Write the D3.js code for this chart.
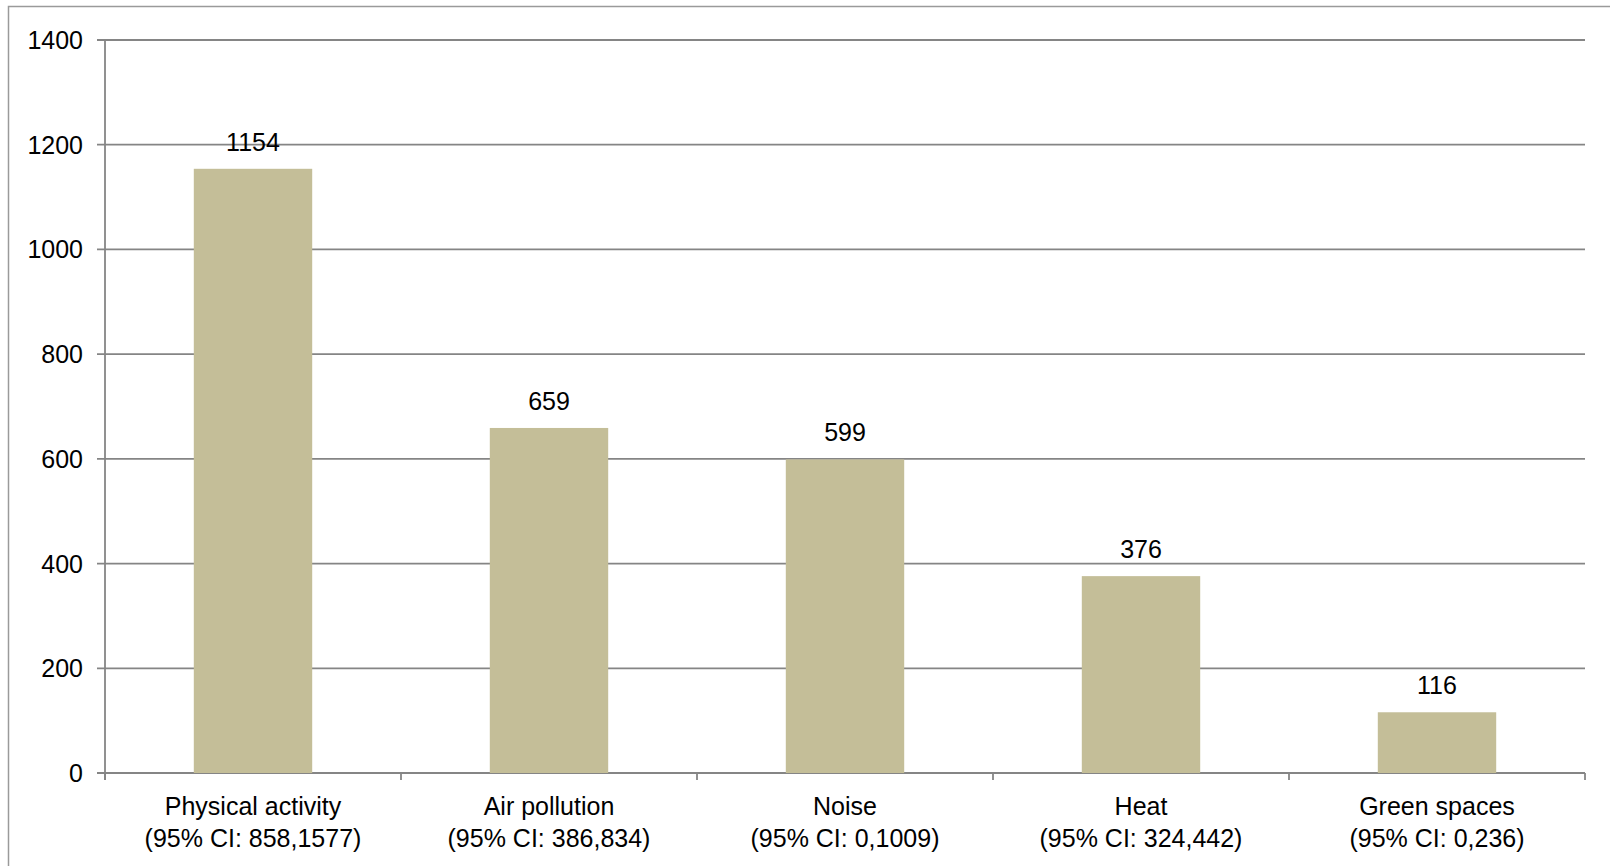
<!DOCTYPE html>
<html><head><meta charset="utf-8">
<script src="https://cdn.jsdelivr.net/npm/d3@7"></script>
<style>body{margin:0;background:#fff;}svg{display:block;font-family:"Liberation Sans",Arial,sans-serif;}</style>
</head><body>
<svg id="c" width="1610" height="866"></svg>
<script>
const categories = ["Physical activity", "Air pollution", "Noise", "Heat", "Green spaces"];
const ciLabels = ["(95% CI: 858,1577)", "(95% CI: 386,834)", "(95% CI: 0,1009)", "(95% CI: 324,442)", "(95% CI: 0,236)"];
const values = [1154, 659, 599, 376, 116];
const yTicks = [0, 200, 400, 600, 800, 1000, 1200, 1400];

const svg = d3.select("#c");
const m = {left: 105, right: 1585, top: 40, bottom: 773};
svg.append("rect").attr("x", 8.5).attr("y", 6.5).attr("width", 1620).attr("height", 880)
  .attr("fill", "none").attr("stroke", "#9a9a9a").attr("stroke-width", 1.5);

const x = d3.scaleBand().domain(categories).range([m.left, m.right]).paddingInner(0).paddingOuter(0);
const y = d3.scaleLinear().domain([0, 1400]).range([m.bottom, m.top]);
const gridCol = "#858585";
const fs = 25;

// gridlines
svg.append("g").selectAll("line").data(yTicks).join("line")
  .attr("x1", m.left - 8).attr("x2", m.right)
  .attr("y1", d => y(d)).attr("y2", d => y(d))
  .attr("stroke", gridCol).attr("stroke-width", 1.8);

// y labels
svg.append("g").selectAll("text").data(yTicks).join("text")
  .attr("x", 83).attr("y", d => y(d)).attr("dy", "0.36em")
  .attr("text-anchor", "end").attr("font-size", fs).attr("fill", "#000")
  .text(d => d);

// bars
const bw = x.bandwidth() * 0.4;
svg.append("g").selectAll("rect").data(values).join("rect")
  .attr("x", (d, i) => x(categories[i]) + x.bandwidth() / 2 - bw / 2)
  .attr("width", bw)
  .attr("y", d => y(d)).attr("height", d => y(0) - y(d))
  .attr("fill", "#c4be98");

// value labels
svg.append("g").selectAll("text").data(values).join("text")
  .attr("x", (d, i) => x(categories[i]) + x.bandwidth() / 2)
  .attr("y", d => y(d) - 18)
  .attr("text-anchor", "middle").attr("font-size", fs).attr("fill", "#000")
  .text(d => d);

// y axis line
svg.append("line").attr("x1", m.left).attr("x2", m.left).attr("y1", m.top).attr("y2", m.bottom + 7)
  .attr("stroke", gridCol).attr("stroke-width", 1.8);
// x ticks
const bounds = categories.map(c => x(c)).concat([m.right]);
svg.append("g").selectAll("line").data(bounds).join("line")
  .attr("x1", d => d).attr("x2", d => d).attr("y1", m.bottom).attr("y2", m.bottom + 7)
  .attr("stroke", gridCol).attr("stroke-width", 1.8);

// category labels
const cl = svg.append("g").selectAll("text").data(categories).join("text")
  .attr("text-anchor", "middle").attr("font-size", fs).attr("fill", "#000");
cl.append("tspan").attr("x", d => x(d) + x.bandwidth() / 2).attr("y", 815).text(d => d);
cl.append("tspan").attr("x", d => x(d) + x.bandwidth() / 2).attr("y", 847).text((d, i) => ciLabels[i]);
</script>
</body></html>
